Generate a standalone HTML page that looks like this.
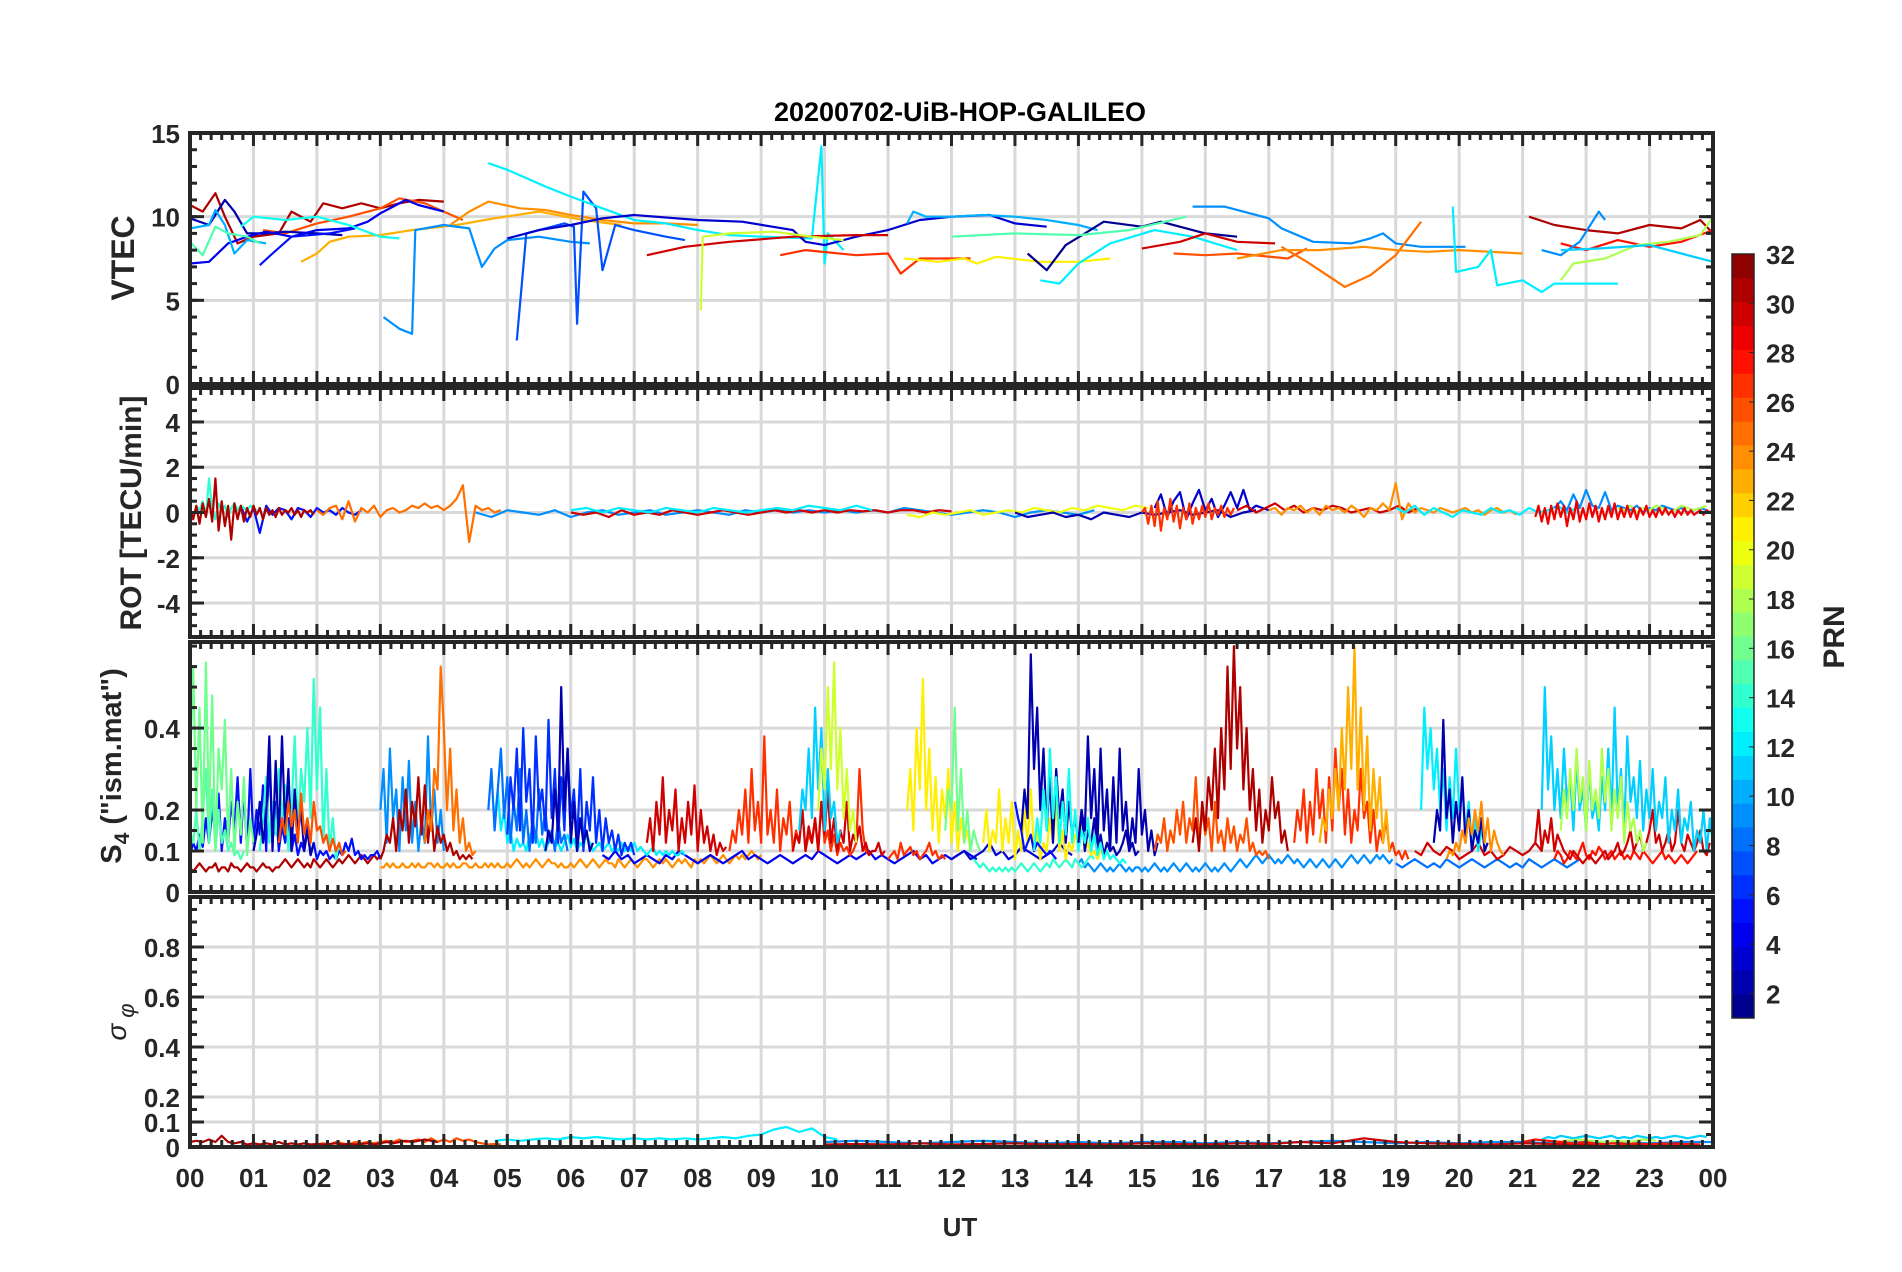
<!DOCTYPE html>
<html><head><meta charset="utf-8"><title>20200702-UiB-HOP-GALILEO</title>
<style>
html,body{margin:0;padding:0;background:#fff;}
svg{display:block;font-family:"Liberation Sans",Arial,sans-serif;}
.tk{font-weight:bold;font-size:26px;fill:#262626;}
</style></head>
<body>
<svg id="chart" width="1902" height="1272" viewBox="0 0 1902 1272" xmlns="http://www.w3.org/2000/svg">
<rect x="0" y="0" width="1902" height="1272" fill="#fff"/>
<text x="960" y="121" text-anchor="middle" font-weight="bold" font-size="27" fill="#000">20200702-UiB-HOP-GALILEO</text>
<g id="panels"></g>
<text x="960" y="1236" text-anchor="middle" class="tk" font-size="28">UT</text>
<text transform="translate(134,258) rotate(-90)" text-anchor="middle" font-weight="bold" font-size="32" fill="#262626">VTEC</text>
<text transform="translate(141,513) rotate(-90)" text-anchor="middle" font-weight="bold" font-size="30" fill="#262626">ROT [TECU/min]</text>
<text transform="translate(121,766) rotate(-90)" text-anchor="middle" font-weight="bold" font-size="29" fill="#262626">S<tspan font-size="21" dy="8">4</tspan><tspan dy="-8"> ("ism.mat")</tspan></text>
<text transform="translate(126,1022) rotate(-90)" text-anchor="middle" font-style="italic" font-size="28" fill="#262626">σ<tspan font-size="22" dy="8" dx="6">φ</tspan></text>
<g id="colorbar"></g>
<text transform="translate(1844,637) rotate(-90)" text-anchor="middle" font-weight="bold" font-size="30" fill="#262626">PRN</text>
</svg>
<script>
// ---------- axis tick labels ----------
const hourLabels = ["00","01","02","03","04","05","06","07","08","09","10","11","12","13","14","15","16","17","18","19","20","21","22","23","00"];
const vtecTicks = [0,5,10,15];
const rotTicks = [-4,-2,0,2,4];
const s4Ticks = [0,0.1,0.2,0.4];
const sigTicks = [0,0.1,0.2,0.4,0.6,0.8];
const cbTicks = [2,4,6,8,10,12,14,16,18,20,22,24,26,28,30,32];

// ---------- VTEC series [hour, TECU] ----------
const vtec31a = [[0,10.7],[0.2,10.3],[0.4,11.4],[0.55,10],[0.75,8.4],[1.0,8.8],[1.4,9.0],[1.6,10.3],[1.9,9.7],[2.1,10.8],[2.4,10.5],[2.7,10.8],[3.0,10.5],[3.3,10.8],[3.6,11.0],[4.0,10.9]];
const vtec26a = [[1.15,9.2],[1.5,9.0],[2.0,9.6],[2.5,10.0],[3.0,10.5],[3.3,11.1],[3.7,10.8],[4.0,10.3],[4.3,9.8]];
const vtec24a = [[4.1,9.5],[4.4,10.3],[4.7,10.9],[5.2,10.5],[5.6,10.4],[6.0,10.1],[6.5,9.8],[7.0,9.6],[7.5,9.6],[8.0,9.5]];
const vtec23a = [[1.75,7.3],[2.0,7.8],[2.2,8.5],[2.5,8.8],[3.0,8.9],[3.5,9.2],[4.2,9.5],[4.8,9.9],[5.5,10.3],[6.2,9.8],[6.8,9.5]];
const vtec9a = [[3.05,4.0],[3.3,3.3],[3.5,3.0],[3.55,9.2],[4.0,9.5],[4.4,9.3],[4.6,7.0],[4.8,8.1],[5.0,8.6],[5.5,8.8],[6.0,8.5],[6.3,8.4]];
const vtec7a = [[5.15,2.6],[5.3,9.0],[5.6,9.3],[5.9,9.6],[6.05,9.4],[6.1,3.6],[6.2,11.5],[6.4,10.5],[6.5,6.8],[6.7,9.5],[7.0,9.2],[7.5,8.8],[7.8,8.6]];
const vtec12a = [[4.7,13.2],[5.0,12.8],[5.6,11.8],[6.0,11.2],[6.5,10.5],[7.0,9.8],[7.5,9.6],[8.0,9.2],[8.5,8.9],[9.0,8.8],[9.8,8.7],[9.95,14.2],[10.0,7.2],[10.05,9.0],[10.3,8.0]];
const vtec2a = [[0,9.9],[0.3,9.5],[0.55,11.0],[0.7,10.3],[0.9,9.0],[1.2,9.0],[1.5,9.1],[2.0,9.0],[2.4,8.9]];
const vtec4a = [[0,7.2],[0.3,7.3],[0.6,8.4],[0.9,8.8],[1.2,9.1],[1.6,8.8],[2.0,9.2],[2.5,9.3],[2.8,9.7],[3.0,10.2],[3.2,10.6],[3.4,11.0],[3.6,10.7],[4.0,10.3]];
const vtec5a = [[1.1,7.1],[1.3,7.8],[1.6,8.8],[2.2,9.0],[2.6,9.3]];
const vtec3a = [[5.0,8.7],[5.5,9.2],[6.0,9.5],[6.5,9.9],[7.0,10.1],[8.0,9.8],[8.7,9.7],[9.5,9.2],[9.7,8.5],[10.0,8.3],[10.5,8.8],[11.0,9.2],[11.5,9.8],[12.0,10.0],[12.6,10.1],[13.0,9.6],[13.5,9.4]];
const vtec10a = [[0,9.3],[0.3,9.5],[0.4,10.4],[0.55,9.5],[0.7,7.8],[0.9,8.6],[1.2,8.4]];
const vtec10b = [[11.3,9.6],[11.4,10.3],[11.6,10.0],[12.0,10.0],[12.5,10.1],[13.0,10.0],[13.5,9.8],[14.0,9.5],[14.3,9.2]];
const vtec15a = [[0,8.5],[0.2,7.7],[0.4,9.4],[0.6,9.0],[0.9,8.8],[1.1,8.4]];
const vtec13a = [[0.8,9.4],[1.0,10.0],[1.5,9.8],[2.0,10.0],[2.5,9.5],[3.0,8.8],[3.3,8.7]];
const vtec30a = [[7.2,7.7],[7.8,8.2],[8.5,8.5],[9.5,8.8],[10.5,8.9],[11.0,8.9]];
const vtec27a = [[9.3,7.7],[9.7,8.0],[10.5,7.7],[11.0,7.8],[11.2,6.6],[11.5,7.5],[12.0,7.5],[12.3,7.5]];
const vtec19a = [[8.05,4.4],[8.08,8.8],[8.5,9.0],[9.2,9.1],[9.8,8.8],[10.3,8.6]];
const vtec21a = [[11.25,7.5],[11.8,7.3],[12.2,7.5],[12.4,7.2],[12.7,7.6],[13.4,7.3],[14.0,7.3],[14.5,7.5]];
const vtec1a = [[13.2,7.8],[13.5,6.8],[13.8,8.3],[14.1,9.0],[14.4,9.7],[15.0,9.4],[15.3,9.7],[16.0,9.0],[16.5,8.8]];
const vtec12b = [[13.4,6.2],[13.7,6.0],[14.0,7.2],[14.5,8.4],[15.2,9.2],[15.8,8.8],[16.5,8.0]];
const vtec15b = [[12.0,8.8],[13.0,9.0],[14.0,8.9],[14.8,9.2],[15.7,10.0]];
const vtec9b = [[15.8,10.6],[16.3,10.6],[17.0,9.9],[17.2,9.3],[17.7,8.5],[18.3,8.4],[18.6,8.7],[18.8,9.0],[19.0,8.4],[19.4,8.2],[20.1,8.2]];
const vtec30b = [[15.0,8.1],[15.6,8.5],[16.0,9.0],[16.5,8.5],[17.1,8.4]];
const vtec26b = [[15.5,7.8],[16.0,7.7],[16.5,7.8],[17.3,7.5],[17.6,8.1]];
const vtec25a = [[17.2,8.2],[17.6,7.3],[18.2,5.8],[18.6,6.5],[19.0,7.7],[19.4,9.7]];
const vtec24b = [[16.5,7.5],[17.2,8.0],[17.8,8.0],[18.5,8.2],[19.0,8.0],[19.5,7.9],[20.0,8.0],[21.0,7.8]];
const vtec12c = [[19.9,10.6],[19.95,6.7],[20.3,7.0],[20.5,8.0],[20.6,5.9],[21.0,6.2],[21.3,5.5],[21.5,6.0],[22.5,6.0]];
const vtec31b = [[21.1,10.0],[21.5,9.5],[22.0,9.2],[22.5,9.0],[23.0,9.5],[23.5,9.3],[23.8,9.8],[24.0,9.0]];
const vtec28a = [[21.6,8.4],[22.0,8.0],[22.5,8.6],[23.0,8.2],[23.5,8.5],[24.0,9.2]];
const vtec9c = [[21.3,8.0],[21.6,7.7],[21.9,8.5],[22.2,10.3],[22.3,9.8]];
const vtec18a = [[21.6,6.2],[21.8,7.2],[22.3,7.5],[22.8,8.3],[23.3,8.5],[23.8,8.9],[24.0,10.0]];
const vtec11a = [[21.6,8.0],[22.2,8.1],[23.0,8.3],[23.5,7.8],[24.0,7.3]];
const vtecList = [[31,vtec31a],[26,vtec26a],[24,vtec24a],[23,vtec23a],[9,vtec9a],[7,vtec7a],[12,vtec12a],[2,vtec2a],[4,vtec4a],[5,vtec5a],[3,vtec3a],[10,vtec10a],[10,vtec10b],[15,vtec15a],[13,vtec13a],[30,vtec30a],[27,vtec27a],[19,vtec19a],[21,vtec21a],[1,vtec1a],[12,vtec12b],[15,vtec15b],[9,vtec9b],[30,vtec30b],[26,vtec26b],[25,vtec25a],[24,vtec24b],[12,vtec12c],[31,vtec31b],[28,vtec28a],[9,vtec9c],[18,vtec18a],[11,vtec11a]];

// ---------- ROT series {prn, start hour, step hour, values TECU/min} ----------
const rotA = {prn:31,start:0,step:0.05,vals:[0.2,-0.3,0.3,-0.5,0.4,-0.2,0.6,-0.4,1.5,-0.8,0.5,-0.6,0.3,-1.2,0.4,-0.3,0.3,-0.4,0.2,-0.2,0.3,-0.1,0.2,-0.3,0.2,-0.1,0.1,-0.2,0.2,-0.1,0.1,0,0.2,-0.1,0.1,-0.2,0.1,0,0.1,-0.1]};
const rotB = {prn:14,start:0.1,step:0.05,vals:[0.3,0.1,0.5,-0.2,1.5,0.2,-0.3,0.4,0.1,0.3,-0.2,0.2,0.4,0.1,0.3,0.2,0.1,0.3,0.2,0.1]};
const rotC = {prn:5,start:0.8,step:0.1,vals:[0.3,-0.4,0.2,-0.9,0.3,-0.1,0.2,0.1,-0.3,0.2,0.1,-0.2,0.2,0,0.1,-0.1,0.2,0,-0.1,0.1]};
const rotD = {prn:25,start:2.0,step:0.1,vals:[0.1,-0.1,0.2,0.3,-0.3,0.5,-0.4,0.2,0,0.3,-0.2,0.1,0.2,0,0.1,0.3,0.2,0.4,0.2,0.3,0.1,0.3,0.6,1.2,-1.3,0.3,0.1,0.2,0,0.1]};
const rotE = {prn:9,start:4.5,step:0.25,vals:[0,-0.2,0.1,0,-0.1,0.1,-0.2,0,0.1,-0.1,0,0.1,-0.1,0,0.1,0,-0.1,0.1,0,0.1,0,0.1,0,0.1,0,0.1,0,0.2,0.1,0,-0.1,0,0.1,0,-0.2,0,0.1,0,-0.1,0.1]};
const rotF = {prn:30,start:6,step:0.2,vals:[0,-0.1,0,-0.2,0.1,-0.1,0,-0.1,0.1,0,-0.1,0,0.1,0,-0.1,0,0.1,0,0.1,0,0.1,0,0.1,0.05,0.1,0,0.1,0.1,0,0.1,0.05]};
const rotG = {prn:12,start:6,step:0.25,vals:[0.1,0.2,0,0.2,0.1,0,0.2,0.1,0,0.2,0.1,0,0.1,0.2,0.1,0.3,0.2,0.1,0.3,0.1]};
const rotH = {prn:20,start:11.3,step:0.2,vals:[-0.1,-0.2,0,-0.1,0,0.1,-0.1,0,0.1,0,0.2,0.1,0,0.2,0.1,0.3,0.2,0.1,0.3,0.2]};
const rotI = {prn:2,start:13,step:0.2,vals:[0,-0.2,-0.1,0,-0.2,-0.1,-0.3,0,-0.1,-0.2,0,-0.1,0,0.1,-0.1,0,0.1,-0.2,0,0.1]};
const rotJ = {prn:27,start:15,step:0.05,vals:[0,0.2,-0.5,0.3,-0.6,0.5,-0.8,0.2,-0.3,0.6,-0.4,0.3,-0.7,0.2,-0.3,0.4,-0.5,0.2,-0.3,0.3,-0.2,0.4,-0.3,0.2,-0.1,0.3,-0.2,0.2,-0.1,0.2]};
const rotK = {prn:3,start:15.2,step:0.1,vals:[0.2,0.8,-0.2,0.5,0.9,-0.3,0.4,1.0,0.1,0.6,-0.2,0.3,0.9,0.2,1.0,0.1,0.3,0.2,0.1]};
const rotL = {prn:30,start:16.5,step:0.15,vals:[0.1,0.3,0,0.2,0.4,0.1,0.3,0,0.2,0.1,0.3,0.2,0,0.1,0.2,0,0.1,0.3,0,0.2]};
const rotM = {prn:24,start:17,step:0.1,vals:[0.1,0.2,-0.1,0.2,0.1,0.3,0,0.2,-0.1,0.3,0.1,0.2,0,0.3,0.1,-0.2,0.2,0.1,0.4,0.1,1.3,-0.3,0.4,0,0.2,0.1,0,0.2,0.1,0,0.1,0.2,0,0.1,-0.1,0.1,0.2,0,0.1,-0.1]};
const rotN = {prn:12,start:19,step:0.15,vals:[0.2,0,0.3,-0.1,0.2,0,-0.2,0.1,0,-0.1,0.2,0,0.1,-0.1,0.2,0,0.1,0.3,0,0.2]};
const rotO = {prn:29,start:21.2,step:0.05,vals:[-0.2,0.3,-0.4,0.2,-0.5,0.3,-0.3,0.4,-0.2,0.3,-0.6,0.2,-0.3,0.5,-0.4,0.2,-0.3,0.4,-0.2,0.3,-0.4,0.2,-0.3,0.3,-0.2,0.4,-0.3,0.2,-0.2,0.3,-0.2,0.2,-0.3,0.2,-0.1,0.3,-0.2,0.1,-0.2,0.2,-0.1,0.2,-0.1,0.1,-0.2,0.1,-0.1,0.2,-0.1,0.1,-0.1,0,0.1,-0.1,0.1,0,0.1]};
const rotP = {prn:9,start:21.5,step:0.1,vals:[0.2,0.5,0.1,0.8,0.2,1.0,0.3,0.2,0.9,0.1,0.3,0.2,0.1,0.3,0,0.2,0.1,0.3,0.2,0.1,0.2,0,0.1,0.2,0.1]};
const rotQ = {prn:18,start:22.5,step:0.1,vals:[0.2,0.1,0.3,0,0.2,0.1,0.3,0.2,0,0.1,0.3,0.2,0.1,0.2,0.3]};
const rotList = [rotE,rotF,rotG,rotH,rotI,rotC,rotB,rotA,rotD,rotK,rotJ,rotL,rotM,rotN,rotP,rotQ,rotO];

// ---------- S4 series (values in hundredths, default step 0.05 h) ----------
const S4_STEP = 0.05;
const s4A = {prn:16,start:0.0,vals:[30,55,20,45,12,56,18,48,10,35,25,42,12,30,10,22,14,28,9,18,12]};
const s4A2 = {prn:15,start:0.0,vals:[15,12,20,10,18,30,12,25,10,20,12,15,10,12,9,10,8,10]};
const s4B = {prn:14,start:1.1,vals:[10,18,28,12,22,14,30,18,26,10,20,38,15,30,22,40,18,52,25,45,12,30,10,18,8,12]};
const s4C = {prn:2,start:1.0,vals:[10,14,22,12,18,38,10,32,12,38,15,30,10,25,14,20,10,15,9,12]};
const s4D = {prn:5,start:0.0,vals:[9,12,10,14,11,18,12,20,14,24,10,18,12,22,15,28,12,25,10,30,12,20,14,26,10,34,12,22,10,16,12,18,10,14,9,12,10,16,9,12,8,10,9,10,8,9,8,10,9,12,10,13,9,10,8,9,8,9,9,10,8]};
const s4E = {prn:26,start:1.4,vals:[12,18,14,22,16,20,12,24,14,18,12,22,15,16,12,14,10,13,10,12,9,10]};
const s4F = {prn:31,start:0.0,vals:[6,5,6,7,6,5,6,6,7,5,6,6,5,7,6,6,5,6,7,6,6,5,6,7,6,6,5,6,6,7,8,7,6,7,8,7,6,7,6,8,7,6,7,8,7,6,7,8,7,8,9,8,7,8,9,8,7,8,9,8,9]};
const s4G = {prn:9,start:3.0,vals:[20,30,12,35,18,25,10,28,15,32,12,22,10,18,12,38,15,25,12,20,10]};
const s4H = {prn:31,start:3.0,vals:[8,10,14,12,18,10,20,15,25,12,22,16,28,14,26,12,20,10,16,12,14,10,12,9,10,8,9,8,9,8]};
const s4I = {prn:25,start:3.7,vals:[12,20,15,30,25,55,40,20,35,15,25,12,18,10,12,9,10]};
const s4J = {prn:24,start:3.0,vals:[6,6,7,6,7,6,6,7,6,6,7,6,7,6,6,7,7,6,7,6,6,7,6,7,6,6,7,7,6,6,7,6,6,7,6,7,6,7,6,6,7,6,7,8,7,6,7,6,7,8,7,6,7,8,7,7,6,7,6,6,7,6,7,8,7,6,7,8,7,6,7,8,7,7,6,8,7,6,7,8,7,6,7,8,8,7,6,7,8,7,8,7,6,7,8,7,8,7,6,8,7,8,7,8,9,8,7,8,9,8,7,8,9,8,9,8,9,10,9,8,9]};
const s4K = {prn:6,start:5.0,vals:[14,28,20,35,15,40,22,30,12,38,20,25,15,42,18,30,12,28,15,35,18,25,12,30,10,22,15,28,12,20,10,18,12,15,10,14,9,12,10,12,9]};
const s4K2 = {prn:2,start:5.6,vals:[10,15,12,25,15,50,20,35,12,22,10,18,12,15,10,12]};
const s4K3 = {prn:8,start:4.7,vals:[20,30,15,25,35,18,28,12,22,15,30,12,20,10,18,12,25,14,20,12,15,10,18,12,14,10]};
const s4L = {prn:12,start:4.8,vals:[18,25,15,20,12,15,10,13,11,12,10,14,12,15,11,13,10,12,14,11,12,10,12,14,11,13,10,12,11,14,12,10,11,12,10,11,12,10,11,10,12,10,11,10,12,10,11,10,9,10,11,9,10,9,10,9,10,9,9,10,9]};
const s4M = {prn:30,start:7.2,vals:[12,18,10,22,14,28,12,20,15,25,10,18,12,22,14,26,10,20,12,16,10,14,9,12,10,11]};
const s4N = {prn:27,start:8.5,vals:[10,15,12,20,14,25,12,30,15,22,12,38,14,20,12,25,10,18,14,22,10,15,12,20,10,14,12,18,10,22,12,15,10,14,9,12,10,11,9,10,12,30,15,10,9,10]};
const s4N2 = {prn:30,start:9.5,vals:[10,14,12,20,10,16,12,18,10,22,14,25,12,18,10,15,12,22,10,14,12,16,10,12,9,10,10,12,9,10]};
const s4O = {prn:11,start:9.6,vals:[15,25,20,35,18,45,25,40,15,30,18,22,12,15]};
const s4O2 = {prn:19,start:9.9,vals:[20,35,25,50,30,56,25,40,18,30,15,20,12]};
const s4P = {prn:21,start:11.3,vals:[20,30,15,40,25,52,20,35,15,28,12,25,18,30,12,22,10,18,12,15,10]};
const s4P2 = {prn:16,start:11.9,vals:[15,25,20,45,15,30,12,20,10,15,12,10]};
const s4P3 = {prn:27,start:11.0,vals:[8,9,10,8,12,9,10,11,9,10,8,9,10,12,9,10,8,9,8]};
const s4Q = {prn:2,start:13.1,vals:[15,25,18,58,30,45,20,35,15,28,12,30,18,25,12,22,14,18,12,20,10,15,12,18,10,14,9,12,10,11,9,10,12,15,10,12,9,10]};
const s4Q2 = {prn:5,start:13.0,vals:[22,18,15,10,12,14,10,12,11,10,9,10,9,8]};
const s4R = {prn:13,start:13.3,vals:[10,18,12,25,15,35,18,28,12,22,14,30,12,20,10,15,12,18,10,14,9,12,8,10,8,9,8,7,8,7]};
const s4S = {prn:21,start:12.5,vals:[12,20,10,15,12,25,10,18,12,22,8,15,10,20,12,25,10,15,8,12,10,18,12,22,10,15,8,12,10,14,12,18,10,12,9,10,8,10,9,10,8]};
const s4T = {prn:2,start:14.0,vals:[12,20,15,38,18,30,12,35,15,25,10,28,12,35,15,22,10,18,12,30,14,20,10,15,9,12]};
const s4U = {prn:31,start:15.8,vals:[12,18,10,22,15,28,20,35,18,40,25,55,30,60,35,50,25,40,20,30,15,25,12,20,15,28,18,22,12,15,10]};
const s4V = {prn:26,start:15.2,vals:[10,14,12,18,10,15,12,20,14,22,12,18,15,28,12,20,14,18,10,22,12,15,10,18,12,16,10,14,12,18,10,12,9,10,9,10,8]};
const s4W = {prn:23,start:17.8,vals:[12,18,15,25,18,30,20,40,25,50,30,60,25,45,20,38,15,30,18,28,12,20,10]};
const s4X = {prn:27,start:17.4,vals:[12,20,15,25,12,22,14,30,18,25,12,28,15,35,20,30,14,25,12,20,15,30,18,22,12,20,10,15,12,18,10,12,9,10,8,10,8]};
const s4Y = {prn:9,start:14.0,vals:[7,8,6,7,6,5,6,7,6,5,6,5,6,7,6,5,6,5,6,6,5,6,5,6,7,6,5,6,5,6,7,6,5,6,7,6,5,6,5,6,7,6,5,6,5,6,7,6,5,6,7,8,7,6,7,8,9,8,7,8,9,8,7,8,7,8,9,8,7,8,7,6,7,8,7,6,7,8,7,6,7,8,7,6,7,8,9,8,7,8,9,8,7,8,9,8,9,8,7,8]};
const s4Y2 = {prn:14,start:12.3,vals:[9,8,7,6,7,6,5,6,5,6,5,6,5,6,5,6,7,6,5,6,7,6,5,6,7,6,8,7,6,7,8,7,6,8,7,6,7,8,9,8]};
const s4Z = {prn:12,start:19.4,vals:[20,45,30,40,25,35,20,30,15,28,18,35,20,25,15,22,12,18,10,15,12]};
const s4AA = {prn:2,start:19.6,vals:[12,20,15,42,18,25,12,22,15,28,12,20,10,15,12,18,10,12]};
const s4AA2 = {prn:24,start:19.8,vals:[8,10,9,12,10,15,12,18,14,20,15,22,12,18,10,15,12,10,9]};
const s4AB = {prn:11,start:21.3,vals:[20,50,25,38,20,30,18,35,22,28,15,32,20,25,15,30,18,22,15,28,20,35,18,45,20,30,15,38,22,28,18,32,15,25,18,30,15,22,18,28,12,20,15,25,12,18,15,22,10,15,12,20,10,18,12]};
const s4AC = {prn:18,start:21.6,vals:[15,25,18,30,20,35,22,28,15,32,20,25,18,35,22,30,15,25,18,28,12,22,15,18,12,15,10,12]};
const s4AD = {prn:30,start:21.2,vals:[12,20,10,15,12,18,10,14,12,10,9,8,10,9,8,7,8,9,8,7,8,9,10,8,9,10,12,9,10,12,15,10,12,14,10,12,15,20,12,14,10,12,15,10,12,20,12,10,14,12,10,12,15,10,9,12]};
const s4AE = {prn:28,start:21.5,vals:[8,10,9,7,8,10,9,8,10,12,9,8,10,9,11,10,8,9,10,8,9,10,8,9,8,10,9,8,10,9,8,7,8,9,10,8,9,8,7,8,9,8,7,8,9,10]};
const s4BA = {prn:4,start:6.5,step:0.1,vals:[9,8,10,8,9,7,8,9,8,7,9,8,10,9,8,7,8,9,8,7,8,9,10,8,9,8,7,8,9,8,7,8,9,8,10,9,8,7,8,9,8,9,10,8,9,8,7,8,9,10,8,9,7,8,9,8,9,10,9,8]};
const s4BB = {prn:30,start:19.3,step:0.1,vals:[10,9,12,10,9,11,10,8,9,10,12,9,10,8,9,11,10,9,10,12,10]};
const s4BC = {prn:8,start:19.0,step:0.1,vals:[7,6,7,8,7,6,7,6,8,7,6,7,8,7,6,7,8,7,6,7,6,8,7,6,7,8,7,6,7,8]};
const s4BD = {prn:3,start:12.0,step:0.1,vals:[8,9,10,8,9,10,12,9,10,8,9,11,10,9,8,9,10,12,10,9]};
const s4List = [s4F,s4J,s4Y,s4Y2,s4BA,s4BC,s4BD,s4L,s4D,s4A2,s4A,s4B,s4C,s4E,s4G,s4H,s4I,s4K3,s4K,s4K2,s4M,s4N,s4N2,s4O,s4O2,s4P3,s4P,s4P2,s4S,s4Q2,s4Q,s4R,s4T,s4V,s4U,s4X,s4W,s4BB,s4Z,s4AA,s4AA2,s4AE,s4AD,s4AB,s4AC];

// ---------- sigma-phi series ----------
const sigA = {prn:31,start:0,step:0.1,vals:[0.02,0.025,0.02,0.03,0.02,0.045,0.02,0.015,0.02,0.01,0.015,0.01,0.015,0.01,0.02,0.01,0.015,0.01,0.015,0.01,0.012,0.01,0.012,0.015,0.01,0.012,0.01,0.012,0.015,0.01,0.015,0.02,0.015,0.02,0.025,0.02,0.025,0.03,0.025,0.02]};
const sigB = {prn:26,start:2,step:0.1,vals:[0.01,0.015,0.01,0.02,0.015,0.01,0.02,0.015,0.02,0.015,0.02,0.025,0.02,0.03,0.02,0.025,0.03,0.02,0.035,0.02,0.03,0.02,0.035,0.025,0.03,0.02,0.015,0.01,0.012,0.01]};
const sigC = {prn:12,start:4.8,step:0.2,vals:[0.025,0.03,0.025,0.03,0.035,0.03,0.04,0.035,0.04,0.035,0.03,0.035,0.03,0.035,0.03,0.035,0.03,0.035,0.04,0.035,0.045,0.05,0.07,0.08,0.06,0.075,0.04,0.03]};
const sigD = {prn:9,start:10,step:0.5,vals:[0.02,0.025,0.02,0.015,0.02,0.025,0.02,0.015,0.02,0.015,0.02,0.02,0.015,0.02,0.015,0.02,0.025,0.02,0.015,0.02,0.015,0.02,0.02,0.015,0.02,0.02,0.015,0.02,0.02]};
const sigE = {prn:30,start:10,step:0.5,vals:[0.01,0.012,0.01,0.015,0.01,0.012,0.015,0.01,0.012,0.01,0.015,0.012,0.01,0.015,0.012,0.02,0.015,0.035,0.02,0.015,0.012,0.01,0.015,0.012,0.01,0.015,0.01,0.015]};
const sigF = {prn:11,start:21.3,step:0.1,vals:[0.03,0.04,0.035,0.045,0.04,0.035,0.04,0.045,0.04,0.035,0.04,0.045,0.035,0.04,0.035,0.045,0.04,0.035,0.04,0.035,0.04,0.045,0.04,0.035,0.04,0.045,0.04]};
const sigG = {prn:28,start:21,step:0.2,vals:[0.02,0.03,0.025,0.02,0.015,0.02,0.01,0.015,0.01,0.015,0.01,0.015,0.01,0.012,0.01]};
const sigH = {prn:18,start:21.5,step:0.2,vals:[0.02,0.025,0.03,0.025,0.02,0.025,0.02,0.03,0.025]};
const sigList = [sigD,sigC,sigE,sigB,sigA,sigF,sigH,sigG];

// ---------- layout ----------
const X0 = 190, X1 = 1713, HOURS = 24;
const xS = t => X0 + (t / HOURS) * (X1 - X0);
const panelDefs = [
  {name:'vtec',top:133,bot:384,min:0,max:15,ticks:vtecTicks,minor:1},
  {name:'rot',top:388,bot:637,min:-5.5,max:5.5,ticks:rotTicks,minor:0.5},
  {name:'s4',top:642,bot:892,min:0,max:0.61,ticks:s4Ticks,minor:0.05},
  {name:'sigma',top:897,bot:1147,min:0,max:1,ticks:sigTicks,minor:0.05}
];
function yFn(p){ return v => p.bot - (v - p.min) / (p.max - p.min) * (p.bot - p.top); }
function jet(prn){
  const x = (prn - 0.5) / 32;
  const c = v => Math.round(255 * Math.max(0, Math.min(1, v)));
  return `rgb(${c(1.5-Math.abs(4*x-3))},${c(1.5-Math.abs(4*x-2))},${c(1.5-Math.abs(4*x-1))})`;
}
const NS = 'http://www.w3.org/2000/svg';
function mk(tag, attrs, parent){
  const e = document.createElementNS(NS, tag);
  for (const k in attrs) e.setAttribute(k, attrs[k]);
  parent.appendChild(e);
  return e;
}
const root = document.getElementById('panels');
const defs = mk('defs', {}, root);
panelDefs.forEach(p => {
  const cp = mk('clipPath', {id:'clip-'+p.name}, defs);
  mk('rect', {x:X0, y:p.top, width:X1-X0, height:p.bot-p.top}, cp);
});

function drawSeriesPts(g, p, prn, pts){
  const y = yFn(p);
  const d = pts.map((q,i) => (i?'L':'M') + xS(q[0]).toFixed(1) + ' ' + y(q[1]).toFixed(1)).join('');
  const el = mk('path', {d:d, fill:'none', stroke:jet(prn), 'stroke-width':2.2, 'stroke-linejoin':'round'}, g);
  
  
}
function stepSeriesPts(s, step, scale){
  return s.vals.map((v,i) => [s.start + i*step, v*scale]);
}

panelDefs.forEach(p => {
  const g = mk('g', {}, root);
  
  
  const y = yFn(p);
  const grid = mk('g', {stroke:'#d9d9d9','stroke-width':3}, g);
  
  
  for (let h = 1; h < HOURS; h++) mk('line', {x1:xS(h), x2:xS(h), y1:p.top, y2:p.bot}, grid);
  p.ticks.forEach(v => { if (v > p.min && v < p.max) mk('line', {x1:X0, x2:X1, y1:y(v), y2:y(v)}, grid); });
  const dg = mk('g', {'clip-path':'url(#clip-'+p.name+')'}, g);
  
  
  if (p.name === 'vtec') vtecList.forEach(s => drawSeriesPts(dg, p, s[0], s[1]));
  if (p.name === 'rot') rotList.forEach(s => drawSeriesPts(dg, p, s.prn, stepSeriesPts(s, s.step, 1)));
  if (p.name === 's4') s4List.forEach(s => drawSeriesPts(dg, p, s.prn, stepSeriesPts(s, s.step || S4_STEP, 0.01)));
  if (p.name === 'sigma') sigList.forEach(s => drawSeriesPts(dg, p, s.prn, stepSeriesPts(s, s.step, 1)));
  const tg = mk('g', {stroke:'#262626','stroke-width':3}, g);
  
  
  for (let m = 0; m <= HOURS*6; m++) {
    const x = xS(m/6), L = (m % 6 === 0) ? 13 : 7;
    mk('line', {x1:x, x2:x, y1:p.top, y2:p.top+L}, tg);
    mk('line', {x1:x, x2:x, y1:p.bot, y2:p.bot-L}, tg);
  }
  const nMin = Math.round((p.max - p.min) / p.minor);
  for (let k = 0; k <= nMin; k++) {
    const v = Math.ceil(p.min / p.minor) * p.minor + k * p.minor;
    if (v > p.max + 1e-9) break;
    mk('line', {x1:X0, x2:X0+7, y1:y(v), y2:y(v)}, tg);
    mk('line', {x1:X1, x2:X1-7, y1:y(v), y2:y(v)}, tg);
  }
  p.ticks.forEach(v => {
    mk('line', {x1:X0, x2:X0+14, y1:y(v), y2:y(v)}, tg);
    mk('line', {x1:X1, x2:X1-14, y1:y(v), y2:y(v)}, tg);
    const t = mk('text', {x:X0-10, y:y(v)+10, 'text-anchor':'end', class:'tk'}, g);
    t.textContent = String(v);
    
    
  });
  const fr = mk('rect', {x:X0, y:p.top, width:X1-X0, height:p.bot-p.top, fill:'none', stroke:'#262626', 'stroke-width':4}, g);
  
  
});
hourLabels.forEach((lab, i) => {
  const t = mk('text', {x:xS(i), y:1187, 'text-anchor':'middle', class:'tk', 'font-size':27}, root);
  t.textContent = lab;
  
  
});
const cb = document.getElementById('colorbar');
const CB_X = 1732, CB_W = 22, CB_TOP = 254, CB_BOT = 1018, CB_MIN = 1, CB_MAX = 32;
const cbY = v => CB_BOT - (v - CB_MIN) / (CB_MAX - CB_MIN) * (CB_BOT - CB_TOP);
for (let k = 1; k <= 32; k++) {
  const y1 = CB_BOT - (k-1)/32*(CB_BOT-CB_TOP), y2 = CB_BOT - k/32*(CB_BOT-CB_TOP);
  const r = mk('rect', {x:CB_X, y:y2, width:CB_W, height:y1-y2+0.5, fill:jet(k)}, cb);
  
  
}
mk('rect', {x:CB_X, y:CB_TOP, width:CB_W, height:CB_BOT-CB_TOP, fill:'none', stroke:'#262626', 'stroke-width':1.5}, cb);
cbTicks.forEach(v => {
  mk('line', {x1:CB_X+CB_W-5, x2:CB_X+CB_W, y1:cbY(v), y2:cbY(v), stroke:'#262626','stroke-width':1}, cb);
  const t = mk('text', {x:1766, y:cbY(v)+10, class:'tk', 'font-size':29}, cb);
  t.textContent = String(v);
  
  
});
</script>
</body></html>
